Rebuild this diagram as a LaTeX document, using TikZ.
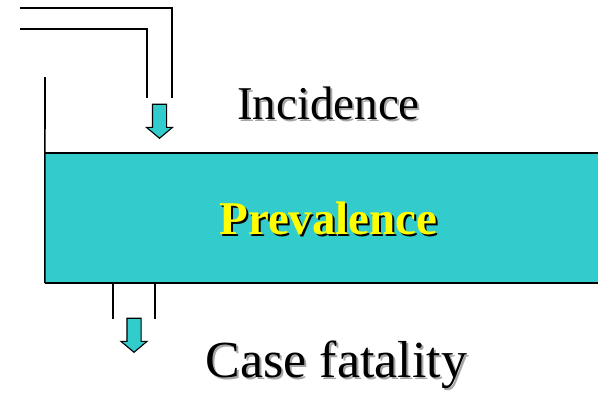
\documentclass[tikz,border=0pt]{standalone}
\usepackage{fontspec}
\setmainfont{Liberation Serif}
\usetikzlibrary{positioning,shapes.arrows}
\definecolor{tankfill}{HTML}{33CCCC}
\definecolor{prevyellow}{HTML}{FFFF00}

\begin{document}
\begin{tikzpicture}[
    x=1pt, y=-1pt,
    pipe/.style={line width=1.6pt},
    flow/.style={single arrow, draw, line width=1.1pt, fill=tankfill, shape border rotate=270, inner sep=6.5pt, minimum height=34pt, single arrow head extend=6pt, single arrow tip angle=100, anchor=tip},
    lbl/.style={anchor=base, inner sep=0pt},
    big/.style={font=\fontsize{47}{50}\selectfont},
    bigbold/.style={font=\fontsize{47}{50}\selectfont\bfseries},
    huge/.style={font=\fontsize{52}{56}\selectfont},
    shade/.style={text=black!35}
]
\useasboundingbox (0,0) rectangle (598,394);
% the tank
\node[fill=tankfill, minimum width=553pt, minimum height=130pt, inner sep=0pt] (pool) at (321.5,218) {};
\coordinate (wallTop) at (45,77);
\draw[pipe] (pool.north west) -- (pool.north east);
\draw[pipe] (pool.south west) -- (pool.south east);
\draw[pipe] (wallTop) -- (pool.south west);
% inflow pipe
\coordinate (outA) at (20,8);
\coordinate (outB) at (172,98);
\coordinate (inA) at (20,29);
\coordinate (inB) at (147,98);
\draw[pipe] (outA) -| (outB);
\draw[pipe] (inA) -| (inB);
\node[flow] (inflow) at (159.5,139) {};
% outflow pipe
\coordinate (drainL) at (113,319);
\coordinate (drainR) at (155,319);
\draw[pipe] (drainL |- pool.south) -- (drainL);
\draw[pipe] (drainR |- pool.south) -- (drainR);
\node[flow] (outflow) at (134,353) {};
% labels
\node[lbl, big, shade] (incShade) at (330.5,121) {Incidence};
\node[lbl, big] (inc) at (328.5,119) {Incidence};
\node[lbl, bigbold, text=black] (prevShade) at (330.5,236) {Prevalence};
\node[lbl, bigbold, text=prevyellow] (prev) at (328.5,234) {Prevalence};
\node[lbl, huge, shade] (caseShade) at (338.5,379) {Case fatality};
\node[lbl, huge] (case) at (336.5,377) {Case fatality};
\end{tikzpicture}
\end{document}
